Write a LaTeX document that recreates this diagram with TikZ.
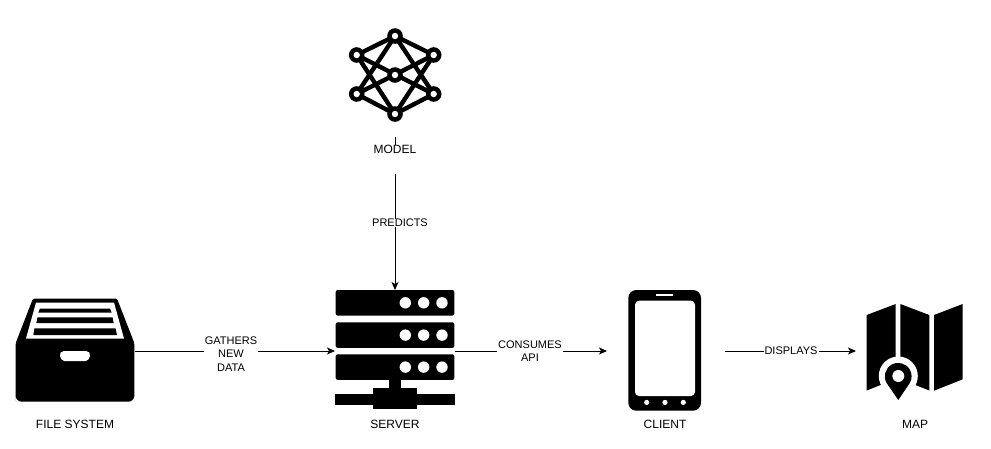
\documentclass[tikz,border=0pt]{standalone}
\usepackage{fontspec}
\setmainfont{Liberation Sans}
\usetikzlibrary{arrows.meta}
\tikzset{
  iconbox/.style={rectangle,inner sep=0pt,outer sep=0pt,draw=none},
  flow/.style={draw=black,line width=1pt,-{Stealth[length=8pt,width=7pt,inset=2pt]}},
  captext/.style={font=\fontsize{12}{13.5}\selectfont,inner sep=0pt,align=center,text=black},
  edgelabel/.style={font=\fontsize{11}{13.5}\selectfont,inner sep=0pt,align=center,text=black,fill=white,inner xsep=1pt,inner ysep=0pt},
  ink/.style={fill=black,draw=none},
  paper/.style={fill=white,draw=none},
  netlink/.style={draw=black,line width=4.4pt},
}
\begin{document}
\begin{tikzpicture}[x=1pt,y=-1pt]
\useasboundingbox[fill=white] (0,0) rectangle (991,448);

% anchor boxes for connectors
\node[iconbox,minimum width=100pt,minimum height=112pt] (modelbox) at (395,81) {};
\node[iconbox,minimum width=120pt,minimum height=122pt] (filebox) at (75,351) {};
\node[iconbox,minimum width=120pt,minimum height=122pt] (serverbox) at (395,351) {};
\node[iconbox,minimum width=118pt,minimum height=122pt] (clientbox) at (666,351) {};
\node[iconbox,minimum width=118pt,minimum height=122pt] (mapbox) at (915,351) {};

% connectors
\draw[flow] (modelbox.south) -- (serverbox.north);
\draw[flow] (filebox.east) -- (serverbox.west);
\draw[flow] (serverbox.east) -- (clientbox.west);
\draw[flow] (clientbox.east) -- (mapbox.west);

% model icon
\draw[netlink,line join=round]
  (395,36) -- (356.7,55) (395,36) -- (433.7,55)
  (395,114) -- (356.7,94) (395,114) -- (433.7,94)
  (395,36) -- (356.7,94) (395,36) -- (433.7,94)
  (395,114) -- (356.7,55) (395,114) -- (433.7,55)
  (356.7,55) -- (433.7,94) (433.7,55) -- (356.7,94);
\foreach \p/\r in {395/36,356.7/55,433.7/55,395/75,356.7/94,433.7/94,395/114}
  \fill[black] (\p,\r) circle (7.8pt);
\foreach \p/\r in {395/36,356.7/55,433.7/55,395/75,356.7/94,433.7/94,395/114}
  \fill[white] (\p,\r) circle (3.2pt);

% file system icon
\fill[ink,rounded corners=1.5pt] (33,298.5) -- (117,298.5) -- (134.3,343) -- (134.3,395) [rounded corners=6pt] -- (134.3,401.7) -- (15.7,401.7) -- (15.7,395) [rounded corners=1.5pt] -- (15.7,343) -- cycle;
\fill[paper] (36,302.5) -- (114,302.5) -- (124,338.5) -- (26,338.5) -- cycle;
\fill[ink] (40,308.5) -- (110,308.5) -- (111.7,312.7) -- (38.3,312.7) -- cycle;
\fill[ink] (37.5,317.3) -- (112.5,317.3) -- (113.7,323) -- (36.3,323) -- cycle;
\fill[ink] (34.5,328.3) -- (115.5,328.3) -- (117,335) -- (33.3,335) -- cycle;
\fill[paper,rounded corners=2pt] (62,351) -- (88,351) -- (90.7,354) -- (88,361) -- (62,361) -- (59.3,354) -- cycle;

% server icon
\foreach \r in {290,322.3,354.3}{
  \fill[ink,rounded corners=2pt] (335.7,\r) rectangle (454.3,\r+25.6);
  \foreach \c in {405.3,423.7,442}
    \fill[white] (\c,\r+12.8) circle (5.7pt);
}
\fill[ink] (389.3,379) rectangle (400.7,390);
\fill[ink] (373.3,388.3) rectangle (416.7,409.3);
\fill[ink] (335,393.7) rectangle (455,405);

% client icon
\fill[ink,rounded corners=8pt] (628.3,290) rectangle (701,410.7);
\fill[paper,rounded corners=4pt] (635,300.7) rectangle (695,396);
\fill[white] (656,294.2) rectangle (673.3,296);
\foreach \c in {646.7,665,683.3}
  \fill[white] (\c,402.4) circle (2.6pt);

% map icon
\fill[ink] (866.7,315) -- (895.7,304) -- (895.7,379) -- (866.7,390.5) -- cycle;
\fill[ink] (900.3,304) -- (929.3,315) -- (929.3,390.5) -- (900.3,379) -- cycle;
\fill[ink] (934,315) -- (962.7,304) -- (962.7,379.3) -- (934,390.7) -- cycle;
\fill[white] (898.3,376) circle (19.5pt);
\fill[white] (880,386) -- (898.3,408) -- (916.6,386) -- cycle;
\fill[ink] (886.6,383) arc[start angle=210,end angle=-30,radius=13.4pt] -- (898.3,400) -- cycle;
\fill[white] (898.3,376) circle (6pt);

% captions (the white area of the model caption interrupts the connector)
\node[captext,fill=white,anchor=north,text height=9pt,text depth=20pt,minimum width=46pt] (modelcap) at (395,144.5) {MODEL};
\node[captext] (filecap) at (75,424) {FILE SYSTEM};
\node[captext] (servercap) at (395,424) {SERVER};
\node[captext] (clientcap) at (665,424) {CLIENT};
\node[captext] (mapcap) at (915,424) {MAP};

% connector labels
\node[edgelabel] (predicts) at (400,223) {PREDICTS};
\node[edgelabel] (gathers) at (231,354) {GATHERS\\NEW\\DATA};
\node[edgelabel] (consumes) at (530,351) {CONSUMES\\API};
\node[edgelabel] (displays) at (791,351) {DISPLAYS};
\end{tikzpicture}
\end{document}
